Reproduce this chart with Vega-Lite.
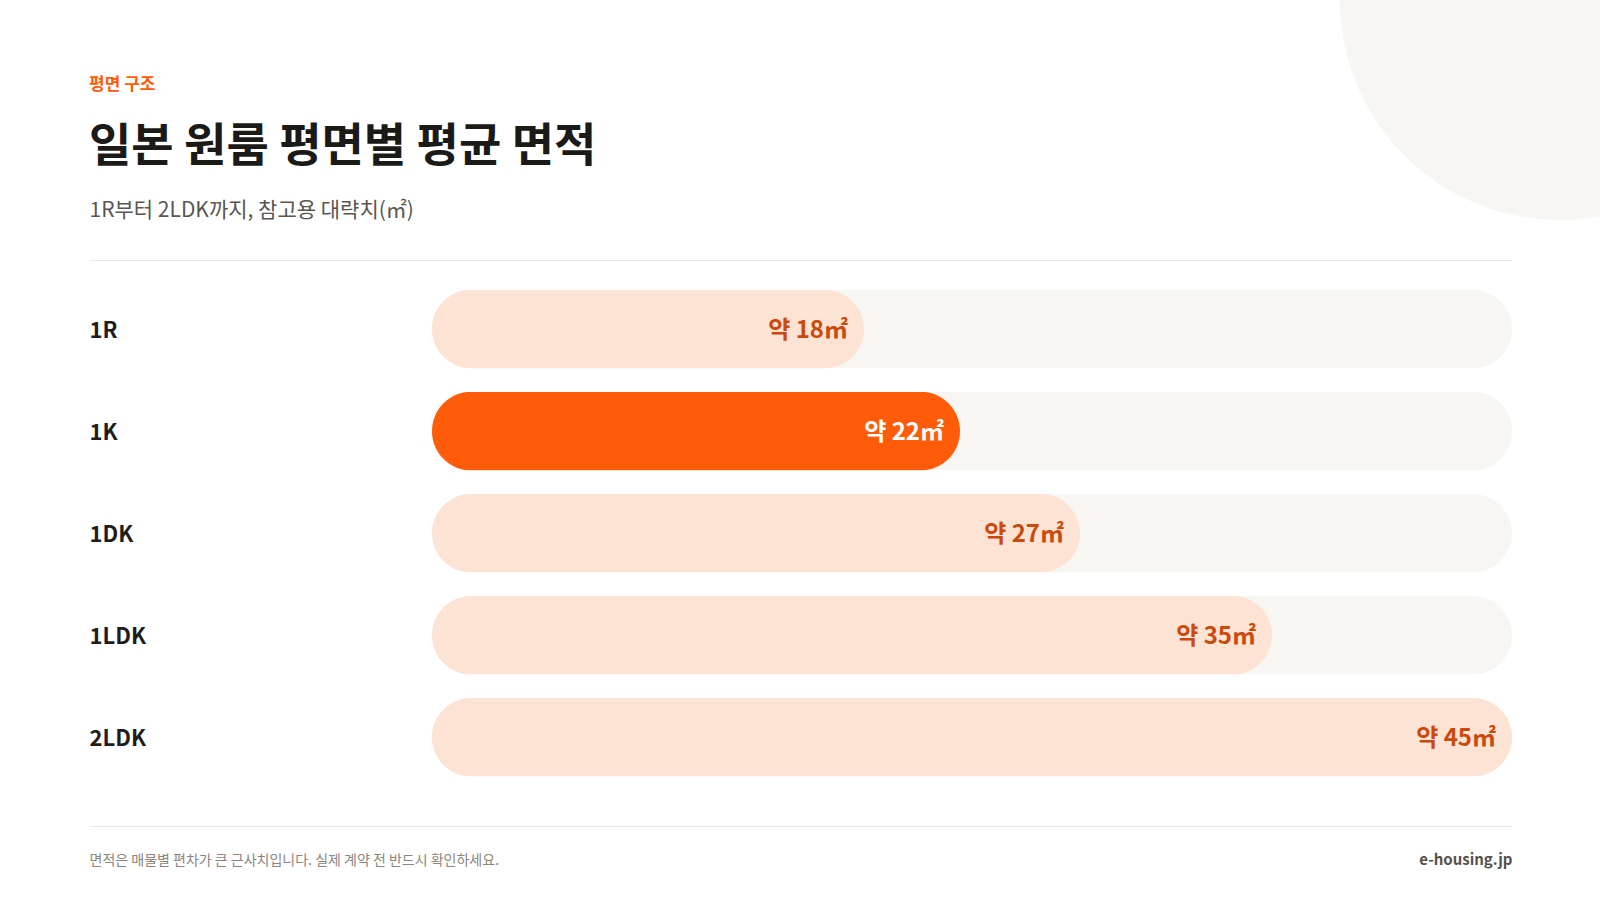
{
  "$schema": "https://vega.github.io/schema/vega-lite/v6.json",
  "width": 1423,
  "height": 566,
  "autosize": "none",
  "padding": {"left": 89, "top": 260, "right": 88, "bottom": 74},
  "background": "#ffffff",
  "config": {"font": "Noto Sans CJK KR", "view": {"stroke": null}},
  "title": {
    "text": "평면 구조",
    "subtitle": "일본 원룸 평면별 평균 면적",
    "anchor": "start",
    "frame": "group",
    "orient": "top",
    "font": "Noto Sans CJK KR",
    "fontSize": 17,
    "fontWeight": "bold",
    "color": "#ff5c0a",
    "subtitleFont": "Noto Sans CJK KR",
    "subtitleFontSize": 46,
    "subtitleFontWeight": "bold",
    "subtitleColor": "#1c1a17",
    "subtitlePadding": 31,
    "offset": -391
  },
  "layer": [
    {
      "data": {"values": [{"deco": "circle", "cx": 47, "cy": 1.4594}]},
      "mark": {"type": "point", "shape": "circle", "filled": true, "color": "#f8f6f2", "opacity": 1, "strokeWidth": 0, "size": 193600},
      "encoding": {
        "x": {
          "field": "cx",
          "type": "quantitative",
          "scale": {"domain": [-14.2917, 45], "nice": false, "zero": false},
          "axis": {
            "orient": "top",
            "domain": true,
            "domainColor": "#ebe5dc",
            "domainWidth": 1,
            "ticks": false,
            "labels": false,
            "grid": false,
            "title": "1R부터 2LDK까지, 참고용 대략치(㎡)",
            "titleFont": "Noto Sans CJK KR",
            "titleFontSize": 21,
            "titleFontWeight": "normal",
            "titleColor": "#5a554f",
            "titleAnchor": "start",
            "titleAlign": "left",
            "titlePadding": 40
          }
        },
        "y": {"field": "cy", "type": "quantitative", "scale": {"domain": [0, 1], "nice": false, "zero": false}, "axis": null}
      }
    },
    {
      "data": {
        "values": [
          {"type": "1R", "area": 18, "highlight": false},
          {"type": "1K", "area": 22, "highlight": true},
          {"type": "1DK", "area": 27, "highlight": false},
          {"type": "1LDK", "area": 35, "highlight": false},
          {"type": "2LDK", "area": 45, "highlight": false}
        ]
      },
      "transform": [
        {"calculate": "'약 ' + datum.area + '㎡'", "as": "label"},
        {"joinaggregate": [{"op": "max", "field": "area", "as": "maxArea"}]}
      ],
      "encoding": {
        "y": {
          "field": "type",
          "type": "nominal",
          "sort": ["1R", "1K", "1DK", "1LDK", "2LDK"],
          "scale": {"paddingInner": 0.2297, "paddingOuter": 0.388, "align": 0.376},
          "axis": {
            "orient": "left",
            "domain": false,
            "ticks": false,
            "tickSize": 0,
            "labelPadding": 0,
            "labelOffset": 2,
            "labelAlign": "left",
            "labelBaseline": "middle",
            "labelFont": "Noto Sans CJK KR",
            "labelFontSize": 22,
            "labelFontWeight": "bold",
            "labelColor": "#1f1d1a",
            "title": "e-housing.jp",
            "titleAngle": 0,
            "titleX": 1423,
            "titleY": 599,
            "titleAlign": "right",
            "titleBaseline": "middle",
            "titleFont": "Noto Sans CJK KR",
            "titleFontSize": 15,
            "titleFontWeight": "bold",
            "titleColor": "#555049"
          }
        }
      },
      "layer": [
        {
          "mark": {"type": "bar", "cornerRadius": 39.3, "color": "#f8f6f2"},
          "encoding": {
            "x": {
              "field": "maxArea",
              "type": "quantitative",
              "scale": {"domain": [-14.2917, 45], "nice": false, "zero": false},
              "axis": {
                "orient": "bottom",
                "domain": true,
                "domainColor": "#ebe5dc",
                "domainWidth": 1,
                "ticks": false,
                "labels": false,
                "grid": false,
                "title": "면적은 매물별 편차가 큰 근사치입니다. 실제 계약 전 반드시 확인하세요.",
                "titleFont": "Noto Sans CJK KR",
                "titleFontSize": 14,
                "titleFontWeight": "normal",
                "titleColor": "#8b857d",
                "titleAnchor": "start",
                "titleAlign": "left",
                "titlePadding": 27
              }
            }
          }
        },
        {
          "mark": {"type": "bar", "cornerRadius": 39.3},
          "encoding": {
            "x": {"field": "area", "type": "quantitative"},
            "color": {"condition": {"test": "datum.highlight", "value": "#ff5c0a"}, "value": "#fde3d4"}
          }
        },
        {
          "mark": {"type": "text", "align": "right", "baseline": "middle", "dx": -16, "dy": 2, "font": "Noto Sans CJK KR", "fontSize": 24, "fontWeight": "bold"},
          "encoding": {
            "x": {"field": "area", "type": "quantitative"},
            "text": {"field": "label"},
            "color": {"condition": {"test": "datum.highlight", "value": "#ffffff"}, "value": "#c94a0c"}
          }
        }
      ]
    }
  ],
  "resolve": {"scale": {"y": "independent"}, "axis": {"x": "independent"}}
}
